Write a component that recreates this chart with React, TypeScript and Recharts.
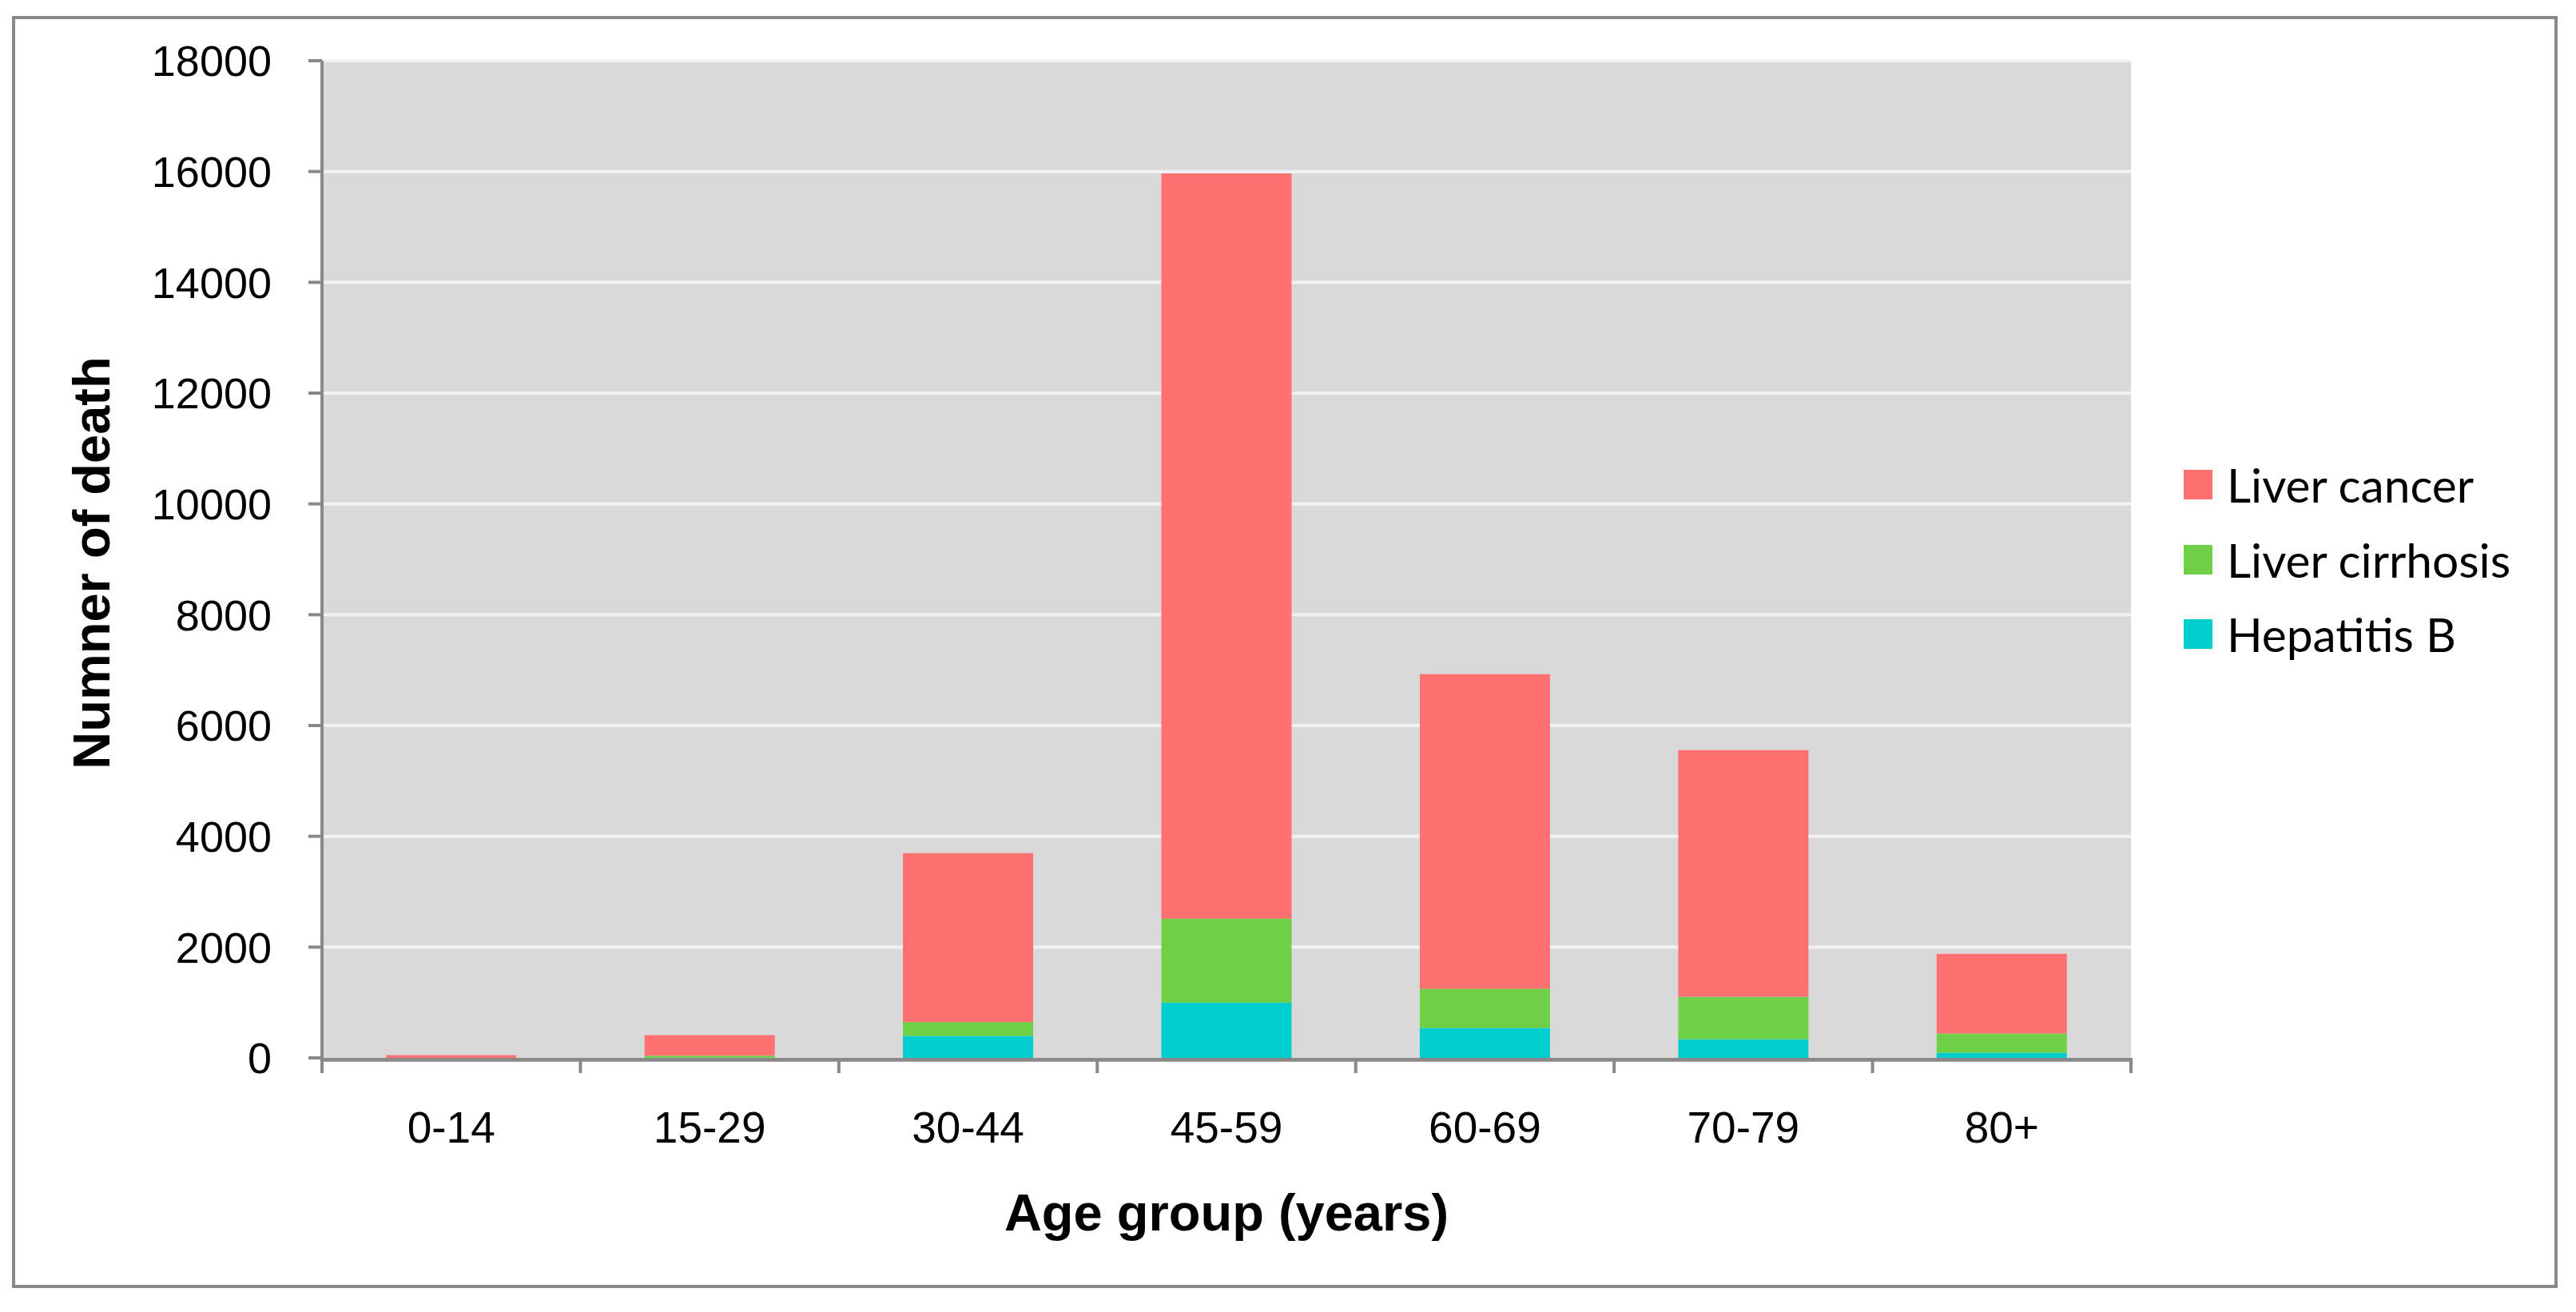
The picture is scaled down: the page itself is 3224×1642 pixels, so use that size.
import React from 'react';
import { BarChart, Bar, XAxis, YAxis, CartesianGrid, Legend } from 'recharts';

const ageGroups = ['0-14', '15-29', '30-44', '45-59', '60-69', '70-79', '80+'];
const hepatitisB = [0, 5, 395, 1000, 540, 338, 93];
const liverCirrhosis = [0, 35, 250, 1515, 706, 764, 346];
const liverCancer = [50, 370, 3050, 13450, 5680, 4455, 1440];
const yTicks = [0, 2000, 4000, 6000, 8000, 10000, 12000, 14000, 16000, 18000];

const seriesNames = { hepB: 'Hepatitis B', cirrhosis: 'Liver cirrhosis', cancer: 'Liver cancer' };
const legendOrder = [seriesNames.cancer, seriesNames.cirrhosis, seriesNames.hepB];

const RED = '#FF7070';
const GREEN = '#6ED045';
const CYAN = '#00CDCD';
const AXIS = '#898989';
const PLOT_BG = '#D9D9D9';
const GRID = '#F2F2F2';
const ARIAL = '"Liberation Sans", Arial, sans-serif';

const seriesColors: Record<string, string> = {
  [seriesNames.hepB]: CYAN,
  [seriesNames.cirrhosis]: GREEN,
  [seriesNames.cancer]: RED,
};

const data = ageGroups.map((age, i) => ({
  age,
  hepB: hepatitisB[i],
  cirrhosis: liverCirrhosis[i],
  cancer: liverCancer[i],
}));

function AgeTick(props: any) {
  const { x, y, payload, index, visibleTicksCount, width } = props;
  const half =
    payload && typeof payload.offset === 'number' && payload.offset > 0
      ? payload.offset
      : width / visibleTicksCount / 2;
  const left = x - half;
  const right = x + half;
  const isLast = index === visibleTicksCount - 1;
  return (
    <g>
      <line x1={left} x2={right} y1={y + 2.4} y2={y + 2.4} stroke={AXIS} strokeWidth={4.8} />
      <line x1={left} x2={left} y1={y} y2={y + 19} stroke={AXIS} strokeWidth={4} />
      {isLast && <line x1={right} x2={right} y1={y} y2={y + 19} stroke={AXIS} strokeWidth={4} />}
      <text x={x} y={y + 106} textAnchor="middle" fontSize={55} fontFamily={ARIAL} fill="#000">
        {payload.value}
      </text>
    </g>
  );
}

function LegendContent(props: any) {
  const colorOf: Record<string, string> = { ...seriesColors };
  if (props.payload) {
    props.payload.forEach((p: any) => {
      if (p && p.value && p.color) colorOf[p.value] = p.color;
    });
  }
  return (
    <div>
      {legendOrder.map((name) => (
        <div key={name} style={{ display: 'flex', alignItems: 'center', height: 93.5 }}>
          <div style={{ width: 36, height: 37, background: colorOf[name], flex: 'none' }} />
          <span
            style={{
              marginLeft: 18,
              fontFamily: 'Lato, "Open Sans", sans-serif',
              fontSize: 58.6,
              lineHeight: 1,
              color: '#000',
              whiteSpace: 'nowrap',
            }}
          >
            {name}
          </span>
        </div>
      ))}
    </div>
  );
}

export default function App() {
  return (
    <div
      style={{
        position: 'absolute',
        left: 0,
        top: 0,
        width: 3224,
        height: 1642,
        background: '#fff',
        fontFamily: ARIAL,
      }}
    >
      <div
        style={{
          position: 'absolute',
          left: 15,
          top: 20,
          width: 3186,
          height: 1592,
          border: `4.5px solid ${AXIS}`,
          boxSizing: 'border-box',
        }}
      />
      <BarChart
        width={3224}
        height={1642}
        data={data}
        margin={{ top: 76, right: 557, bottom: 102, left: 0 }}
        barCategoryGap="24.8%"
        style={{ position: 'absolute', left: 0, top: 0 }}
      >
        <CartesianGrid
          vertical={false}
          fill={PLOT_BG}
          stroke={GRID}
          strokeWidth={4}
          horizontalValues={yTicks.slice(1)}
        />
        <XAxis
          dataKey="age"
          height={216}
          tickSize={0}
          tickMargin={0}
          axisLine={false}
          tickLine={false}
          interval={0}
          tick={(p: any) => <AgeTick {...p} />}
          label={{
            value: 'Age group (years)',
            position: 'insideBottom',
            offset: 0,
            fontSize: 65,
            fontWeight: 'bold',
            fill: '#000',
            fontFamily: ARIAL,
          }}
        />
        <YAxis
          width={403}
          domain={[0, 18000]}
          ticks={yTicks}
          interval={0}
          tickSize={17}
          tickMargin={46}
          axisLine={{ stroke: AXIS, strokeWidth: 4 }}
          tickLine={{ stroke: AXIS, strokeWidth: 4 }}
          tick={{ fontSize: 54, fill: '#000', fontFamily: ARIAL }}
          label={{
            value: 'Numner of death',
            angle: -90,
            position: 'center',
            dx: -87.5,
            dy: 4.5,
            fontSize: 65,
            fontWeight: 'bold',
            fill: '#000',
            fontFamily: ARIAL,
          }}
        />
        <Legend
          layout="vertical"
          align="center"
          verticalAlign="middle"
          wrapperStyle={{ left: 2733, top: 560 }}
          content={(p: any) => <LegendContent {...p} />}
        />
        <Bar dataKey="hepB" name={seriesNames.hepB} stackId="a" fill={CYAN} isAnimationActive={false} />
        <Bar dataKey="cirrhosis" name={seriesNames.cirrhosis} stackId="a" fill={GREEN} isAnimationActive={false} />
        <Bar dataKey="cancer" name={seriesNames.cancer} stackId="a" fill={RED} isAnimationActive={false} />
      </BarChart>
    </div>
  );
}
